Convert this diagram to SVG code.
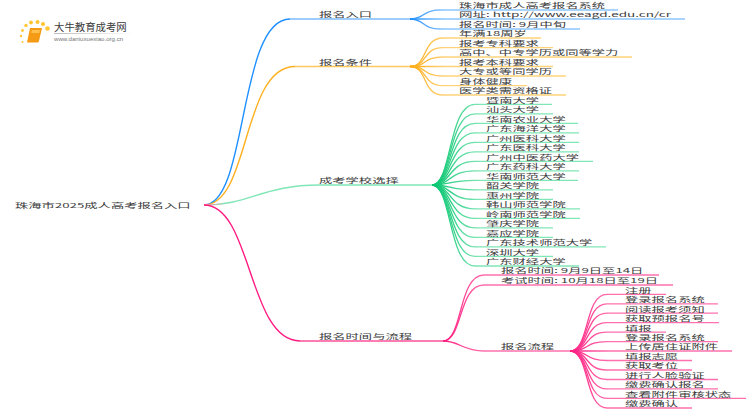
<svg xmlns="http://www.w3.org/2000/svg" width="750" height="410" viewBox="0 0 750 410">
<style>
text{font-family:"Noto Sans CJK SC","Liberation Sans",sans-serif;font-size:13.3px;fill:#3c3c3c}
.c path{fill:none;stroke-width:1.3}
.c .l1{stroke-width:1.4}
</style>
<defs>
<linearGradient id="b" gradientUnits="userSpaceOnUse" x1="410" y1="0" x2="445" y2="0"><stop offset="0" stop-color="#1e90ff"/><stop offset="1" stop-color="#8cc6ff"/></linearGradient>
<linearGradient id="o" gradientUnits="userSpaceOnUse" x1="410" y1="0" x2="445" y2="0"><stop offset="0" stop-color="#ffaa10"/><stop offset="1" stop-color="#ffd27a"/></linearGradient>
<linearGradient id="g" gradientUnits="userSpaceOnUse" x1="432" y1="0" x2="480" y2="0"><stop offset="0" stop-color="#00c46c"/><stop offset="1" stop-color="#7fe6b6"/></linearGradient>
<linearGradient id="p" gradientUnits="userSpaceOnUse" x1="443" y1="0" x2="485" y2="0"><stop offset="0" stop-color="#ff1a80"/><stop offset="1" stop-color="#ff70ae"/></linearGradient>
<linearGradient id="p2" gradientUnits="userSpaceOnUse" x1="570" y1="0" x2="610" y2="0"><stop offset="0" stop-color="#ff1a80"/><stop offset="1" stop-color="#ff70ae"/></linearGradient>
<linearGradient id="rg" gradientUnits="userSpaceOnUse" x1="204" y1="0" x2="226" y2="0"><stop offset="0" stop-color="#ff8fb0"/><stop offset="1" stop-color="#7fe6b6"/></linearGradient>
<linearGradient id="fade" x1="0" y1="0" x2="1" y2="0"><stop offset="0" stop-color="#bbb"/><stop offset="1" stop-color="#fff"/></linearGradient>
</defs>
<g id="connectors" class="c">
<path class="l1" stroke="#1e90ff" d="M204 205C248 205 238 19 290 19"/>
<path class="l1" stroke="#ffb020" d="M204 205C250 205 242 66.500 295 66.500"/>
<path class="l1" stroke="url(#rg)" d="M204 205C250 205 262 185 320 185"/>
<path class="l1" stroke="#ff1a80" d="M204 205C252 205 248 341 300 341"/>
<path stroke="#7cbcff" d="M290 19H410"/>
<path stroke="#ffc85e" d="M295 66.500H410"/>
<path stroke="#7fe6b6" d="M320 185H432"/>
<path stroke="#ff4f9a" d="M300 341H443"/>
<g stroke="url(#b)">
<path d="M410 19C425 19 422 10 440 10H618"/>
<path d="M410 19H685"/>
<path d="M410 19C425 19 422 29 440 29H580"/>
</g>
<g stroke="url(#o)">
<path d="M410 66.500C428 66.500 422 38 443 38H541"/>
<path d="M410 66.500C428 66.500 422 47.700 443 47.700H553"/>
<path d="M410 66.500C428 66.500 422 57 443 57H632"/>
<path d="M410 66.500H553"/>
<path d="M410 66.500C428 66.500 422 76 443 76H566"/>
<path d="M410 66.500C428 66.500 422 85.700 443 85.700H527"/>
<path d="M410 66.500C428 66.500 422 95 443 95H566"/>
</g>
<g stroke="url(#g)">
<path d="M432 185C452 185 448 104.400 475 104.400H552"/>
<path d="M432 185C452 185 448 113.900 475 113.900H553"/>
<path d="M432 185C452 185 448 123.400 475 123.400H578"/>
<path d="M432 185C452 185 448 132.900 475 132.900H579"/>
<path d="M432 185C452 185 448 142.400 475 142.400H579"/>
<path d="M432 185C452 185 448 151.900 475 151.900H579"/>
<path d="M432 185C452 185 448 161.400 475 161.400H593"/>
<path d="M432 185C452 185 448 170.900 475 170.900H579"/>
<path d="M432 185C452 185 448 180.400 475 180.400H578"/>
<path d="M432 185C452 185 448 189.900 475 189.900H553"/>
<path d="M432 185C452 185 448 199.400 475 199.400H553"/>
<path d="M432 185C452 185 448 208.900 475 208.900H580"/>
<path d="M432 185C452 185 448 218.400 475 218.400H580"/>
<path d="M432 185C452 185 448 227.900 475 227.900H553"/>
<path d="M432 185C452 185 448 237.400 475 237.400H553"/>
<path d="M432 185C452 185 448 246.900 475 246.900H606"/>
<path d="M432 185C452 185 448 256.400 475 256.400H553"/>
<path d="M432 185C452 185 448 266 475 266H579"/>
</g>
<g stroke="url(#p)">
<path d="M443 341C463 341 458 275 484 275H659"/>
<path d="M443 341C463 341 458 285 484 285H673"/>
<path d="M443 341C460 341 462 351 484 351H570"/>
</g>
<g stroke="url(#p2)">
<path d="M570 351C590 351 584 294.300 607 294.300H666"/>
<path d="M570 351C590 351 584 303.800 607 303.800H718"/>
<path d="M570 351C590 351 584 313.200 607 313.200H718"/>
<path d="M570 351C590 351 584 322.700 607 322.700H719"/>
<path d="M570 351C590 351 584 332.200 607 332.200H666"/>
<path d="M570 351C590 351 584 341.600 607 341.600H718"/>
<path d="M570 351C590 351 584 351 607 351H732"/>
<path d="M570 351C590 351 584 360.500 607 360.500H692"/>
<path d="M570 351C590 351 584 370 607 370H692"/>
<path d="M570 351C590 351 584 379.500 607 379.500H718"/>
<path d="M570 351C590 351 584 388.900 607 388.900H718"/>
<path d="M570 351C590 351 584 398.400 607 398.400H746"/>
<path d="M570 351C590 351 584 408 607 408H692"/>
</g>
</g>
<g id="logo">
<g fill="#ffc533">
<circle cx="22.500" cy="42" r="1"/><circle cx="21" cy="36" r="1.200"/><circle cx="22.500" cy="30.500" r="1.400"/><circle cx="26" cy="25.500" r="1.700"/><circle cx="31" cy="22.500" r="1.900"/><circle cx="37.500" cy="22" r="2"/><circle cx="43" cy="24" r="2.100"/><circle cx="47.500" cy="28.500" r="2.300"/>
</g>
<path d="M30 28h12l-3 13c-.3 1-1 1.500-2 1.500H27z" fill="#f59a14"/>
<path d="M32 30h8l-.7 3h-8z" fill="#ffc04d"/>
<rect x="54" y="33" width="80" height="1" fill="url(#fade)"/>
<text x="54" y="31" style="font-size:10.400px">大牛教育成考网</text>
<text x="54" y="41" style="font-size:6.100px;fill:#777;font-family:'Liberation Sans',sans-serif">www.daniuxuexiao.org.cn</text>
</g>
<g id="root"><text transform="translate(15 207.500) scale(1 .5)">珠海市2025成人高考报名入口</text></g>
<g id="n1"><text transform="translate(319 17.300) scale(1 .5)">报名入口</text></g>
<g id="n2"><text transform="translate(319 64.800) scale(1 .5)">报名条件</text></g>
<g id="n3"><text transform="translate(319 183.300) scale(1 .5)">成考学校选择</text></g>
<g id="n4"><text transform="translate(319 339.300) scale(1 .5)">报名时间与流程</text></g>
<g id="n1-1"><text transform="translate(459 8.300) scale(1 .5)">珠海市成人高考报名系统</text></g>
<g id="n1-2"><text textLength="212" lengthAdjust="spacingAndGlyphs" transform="translate(459 17.300) scale(1 .5)">网址: http://www.eeagd.edu.cn/cr</text></g>
<g id="n1-3"><text transform="translate(459 27.300) scale(1 .5)">报名时间: 9月中旬</text></g>
<g id="n2-1"><text transform="translate(459 36.300) scale(1 .5)">年满18周岁</text></g>
<g id="n2-2"><text transform="translate(459 46) scale(1 .5)">报考专科要求</text></g>
<g id="n2-3"><text transform="translate(459 55.300) scale(1 .5)">高中、中专学历或同等学力</text></g>
<g id="n2-4"><text transform="translate(459 64.800) scale(1 .5)">报考本科要求</text></g>
<g id="n2-5"><text transform="translate(459 74.300) scale(1 .5)">大专或等同学历</text></g>
<g id="n2-6"><text transform="translate(459 84) scale(1 .5)">身体健康</text></g>
<g id="n2-7"><text transform="translate(459 93.300) scale(1 .5)">医学类需资格证</text></g>
<g id="n3-1"><text transform="translate(486 102.700) scale(1 .5)">暨南大学</text></g>
<g id="n3-2"><text transform="translate(486 112.200) scale(1 .5)">汕头大学</text></g>
<g id="n3-3"><text transform="translate(486 121.700) scale(1 .5)">华南农业大学</text></g>
<g id="n3-4"><text transform="translate(486 131.200) scale(1 .5)">广东海洋大学</text></g>
<g id="n3-5"><text transform="translate(486 140.700) scale(1 .5)">广州医科大学</text></g>
<g id="n3-6"><text transform="translate(486 150.200) scale(1 .5)">广东医科大学</text></g>
<g id="n3-7"><text transform="translate(486 159.700) scale(1 .5)">广州中医药大学</text></g>
<g id="n3-8"><text transform="translate(486 169.200) scale(1 .5)">广东药科大学</text></g>
<g id="n3-9"><text transform="translate(486 178.700) scale(1 .5)">华南师范大学</text></g>
<g id="n3-10"><text transform="translate(486 188.200) scale(1 .5)">韶关学院</text></g>
<g id="n3-11"><text transform="translate(486 197.700) scale(1 .5)">惠州学院</text></g>
<g id="n3-12"><text transform="translate(486 207.200) scale(1 .5)">韩山师范学院</text></g>
<g id="n3-13"><text transform="translate(486 216.700) scale(1 .5)">岭南师范学院</text></g>
<g id="n3-14"><text transform="translate(486 226.200) scale(1 .5)">肇庆学院</text></g>
<g id="n3-15"><text transform="translate(486 235.700) scale(1 .5)">嘉应学院</text></g>
<g id="n3-16"><text transform="translate(486 245.200) scale(1 .5)">广东技术师范大学</text></g>
<g id="n3-17"><text transform="translate(486 254.700) scale(1 .5)">深圳大学</text></g>
<g id="n3-18"><text transform="translate(486 264.300) scale(1 .5)">广东财经大学</text></g>
<g id="n4-1"><text transform="translate(501 273.300) scale(1 .5)">报名时间: 9月9日至14日</text></g>
<g id="n4-2"><text transform="translate(501 283.300) scale(1 .5)">考试时间: 10月18日至19日</text></g>
<g id="n4-3"><text transform="translate(501 349.300) scale(1 .5)">报名流程</text></g>
<g id="n4-3-1"><text transform="translate(625 292.600) scale(1 .5)">注册</text></g>
<g id="n4-3-2"><text transform="translate(625 302.100) scale(1 .5)">登录报名系统</text></g>
<g id="n4-3-3"><text transform="translate(625 311.500) scale(1 .5)">阅读报考须知</text></g>
<g id="n4-3-4"><text transform="translate(625 321) scale(1 .5)">获取预报名号</text></g>
<g id="n4-3-5"><text transform="translate(625 330.500) scale(1 .5)">填报</text></g>
<g id="n4-3-6"><text transform="translate(625 339.900) scale(1 .5)">登录报名系统</text></g>
<g id="n4-3-7"><text transform="translate(625 349.300) scale(1 .5)">上传居住证附件</text></g>
<g id="n4-3-8"><text transform="translate(625 358.800) scale(1 .5)">填报志愿</text></g>
<g id="n4-3-9"><text transform="translate(625 368.300) scale(1 .5)">获取考位</text></g>
<g id="n4-3-10"><text transform="translate(625 377.800) scale(1 .5)">进行人脸验证</text></g>
<g id="n4-3-11"><text transform="translate(625 387.200) scale(1 .5)">缴费确认报名</text></g>
<g id="n4-3-12"><text transform="translate(625 396.700) scale(1 .5)">查看附件审核状态</text></g>
<g id="n4-3-13"><text transform="translate(625 406.300) scale(1 .5)">缴费确认</text></g>
</svg>
